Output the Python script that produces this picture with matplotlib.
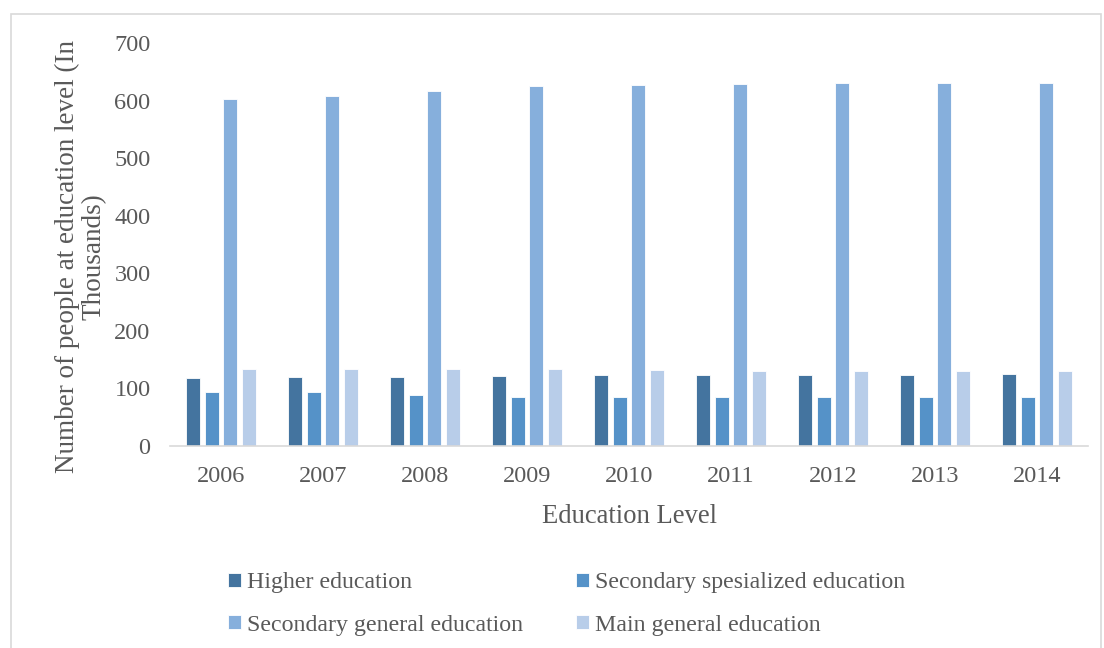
import matplotlib.pyplot as plt
import numpy as np
from matplotlib.patches import Rectangle

# data
years = ['2006', '2007', '2008', '2009', '2010', '2011', '2012', '2013', '2014']
higher = [118, 119, 120, 122, 123, 124, 124, 124, 125]
sec_special = [93, 93, 88, 86, 85, 85, 85, 85, 85]
sec_general = [602, 608, 617, 625, 627, 628, 630, 630, 631]
main_general = [134, 133, 133, 133, 132, 130, 130, 130, 130]

series = [
    ('Higher education', higher, '#44749f'),
    ('Secondary spesialized education', sec_special, '#5592c8'),
    ('Secondary general education', sec_general, '#86afdc'),
    ('Main general education', main_general, '#b8cde9'),
]

plt.rcParams['font.family'] = ['Liberation Serif', 'DejaVu Serif']
txt = '#595959'

fig = plt.figure(figsize=(11.04, 6.48), dpi=100)
ax = fig.add_axes([0.154, 0.3117, 0.8315, 0.622])

x = np.arange(len(years))
w = 0.137
step = 0.182
bars = []
for i, (name, vals, col) in enumerate(series):
    b = ax.bar(x + (i - 1.5) * step, vals, width=w, color=col,
               edgecolor='white', linewidth=0.6, label=name)
    bars.append(b)

ax.set_xlim(-0.5, len(years) - 0.5)
ax.set_ylim(0, 700)
ax.set_yticks(range(0, 701, 100))
ax.set_xticks(x)
ax.set_xticklabels(years)
ax.tick_params(axis='both', length=0, labelsize=17.5, colors=txt)
ax.tick_params(axis='y', pad=14)
ax.tick_params(axis='x', pad=14.5)
for s in ['top', 'right', 'left']:
    ax.spines[s].set_visible(False)
ax.spines['bottom'].set_color('#d9d9d9')
ax.spines['bottom'].set_linewidth(1.2)

ax.set_xlabel('Education Level', fontsize=19.2, color=txt, labelpad=12)
ax.set_ylabel('Number of people at education level (In\nThousands)',
              fontsize=19.5, color=txt, labelpad=14, linespacing=1.1)
ax.yaxis.set_label_coords(-0.069, 0.47)

order = [0, 2, 1, 3]
leg = fig.legend([bars[i] for i in order], [series[i][0] for i in order],
                 ncol=2, loc='center', bbox_to_anchor=(0.513, 0.068),
                 frameon=False, fontsize=17.2, handlelength=0.55,
                 handleheight=0.55, handletextpad=0.25, columnspacing=2.2,
                 labelspacing=0.9)
for t in leg.get_texts():
    t.set_color(txt)

fig.patches.append(Rectangle((11 / 1104, -0.1), 1090 / 1104, 1.1 - 14 / 648,
                             transform=fig.transFigure, fill=False,
                             edgecolor='#d9d9d9', linewidth=1.2))

fig.savefig('out.png', dpi=100)
